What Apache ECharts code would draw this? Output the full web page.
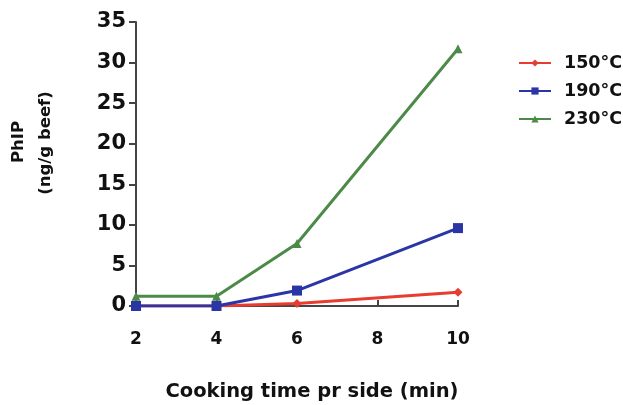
<!DOCTYPE html>
<html>
<head>
<meta charset="utf-8">
<script src="https://cdn.jsdelivr.net/npm/echarts@6/dist/echarts.min.js"></script>
<style>
  html, body { margin: 0; padding: 0; background: #fff; }
  #chart { width: 623px; height: 405px; }
</style>
</head>
<body>
<div id="chart"></div>
<script>
// cooking time (min) per side
const times = [2, 4, 6, 8, 10];
const sampledTimes = [2, 4, 6, 10];
const phip150 = [0, 0, 0.3, 1.7];
const phip190 = [0, 0, 1.9, 9.6];
const phip230 = [1.2, 1.2, 7.7, 31.7];
const seriesNames = ['150°C', '190°C', '230°C'];

const font = 'DejaVu Sans';
const pair = (vals) => sampledTimes.map((t, i) => [t, vals[i]]);

const mk = (name, vals, color, symbol, size) => ({
  name: name,
  type: 'line',
  data: pair(vals),
  symbol: symbol,
  symbolSize: size,
  lineStyle: { color: color, width: 3 },
  itemStyle: { color: color },
  z: 3
});

const myChart = echarts.init(document.getElementById('chart'));
myChart.setOption({
  animation: false,
  grid: { left: 136, right: 165, top: 22, bottom: 99 },
  legend: {
    orient: 'vertical',
    left: 518,
    top: 54,
    padding: 0,
    itemWidth: 32,
    itemHeight: 9,
    itemGap: 10,
    textStyle: { fontFamily: font, fontWeight: 'bold', fontSize: 17.5, color: '#111', padding: [0, 0, 0, 8] },
    data: seriesNames
  },
  xAxis: {
    type: 'value',
    min: 2, max: 10, interval: 2,
    offset: 3,
    axisLine: { lineStyle: { color: '#444', width: 2 } },
    axisTick: { inside: true, length: 6, lineStyle: { color: '#444', width: 2 } },
    splitLine: { show: false },
    axisLabel: { fontFamily: font, fontWeight: 'bold', fontSize: 17, color: '#111', margin: 22 }
  },
  yAxis: {
    type: 'value',
    min: 0, max: 35, interval: 5,
    axisLine: { show: true, lineStyle: { color: '#444', width: 2 } },
    axisTick: { show: true, length: 7, lineStyle: { color: '#444', width: 2 } },
    splitLine: { show: false },
    axisLabel: { fontFamily: font, fontWeight: 'bold', fontSize: 21, color: '#111', margin: 10 }
  },
  graphic: [
    {
      type: 'text', x: 19, y: 142, rotation: Math.PI / 2,
      style: { text: 'PhIP', fontFamily: font, fontWeight: 'bold', fontSize: 16.5, fill: '#111', align: 'center', verticalAlign: 'middle' }
    },
    {
      type: 'text', x: 46, y: 143, rotation: Math.PI / 2,
      style: { text: '(ng/g beef)', fontFamily: font, fontWeight: 'bold', fontSize: 16.5, fill: '#111', align: 'center', verticalAlign: 'middle' }
    },
    {
      type: 'text', x: 312, y: 392,
      style: { text: 'Cooking time pr side (min)', fontFamily: font, fontWeight: 'bold', fontSize: 19.5, fill: '#111', align: 'center', verticalAlign: 'middle' }
    }
  ],
  series: [
    mk(seriesNames[0], phip150, '#e63d30', 'diamond', 9),
    mk(seriesNames[1], phip190, '#2b36a6', 'rect', 10),
    mk(seriesNames[2], phip230, '#4c8a47', 'triangle', 9)
  ]
});
</script>
</body>
</html>
